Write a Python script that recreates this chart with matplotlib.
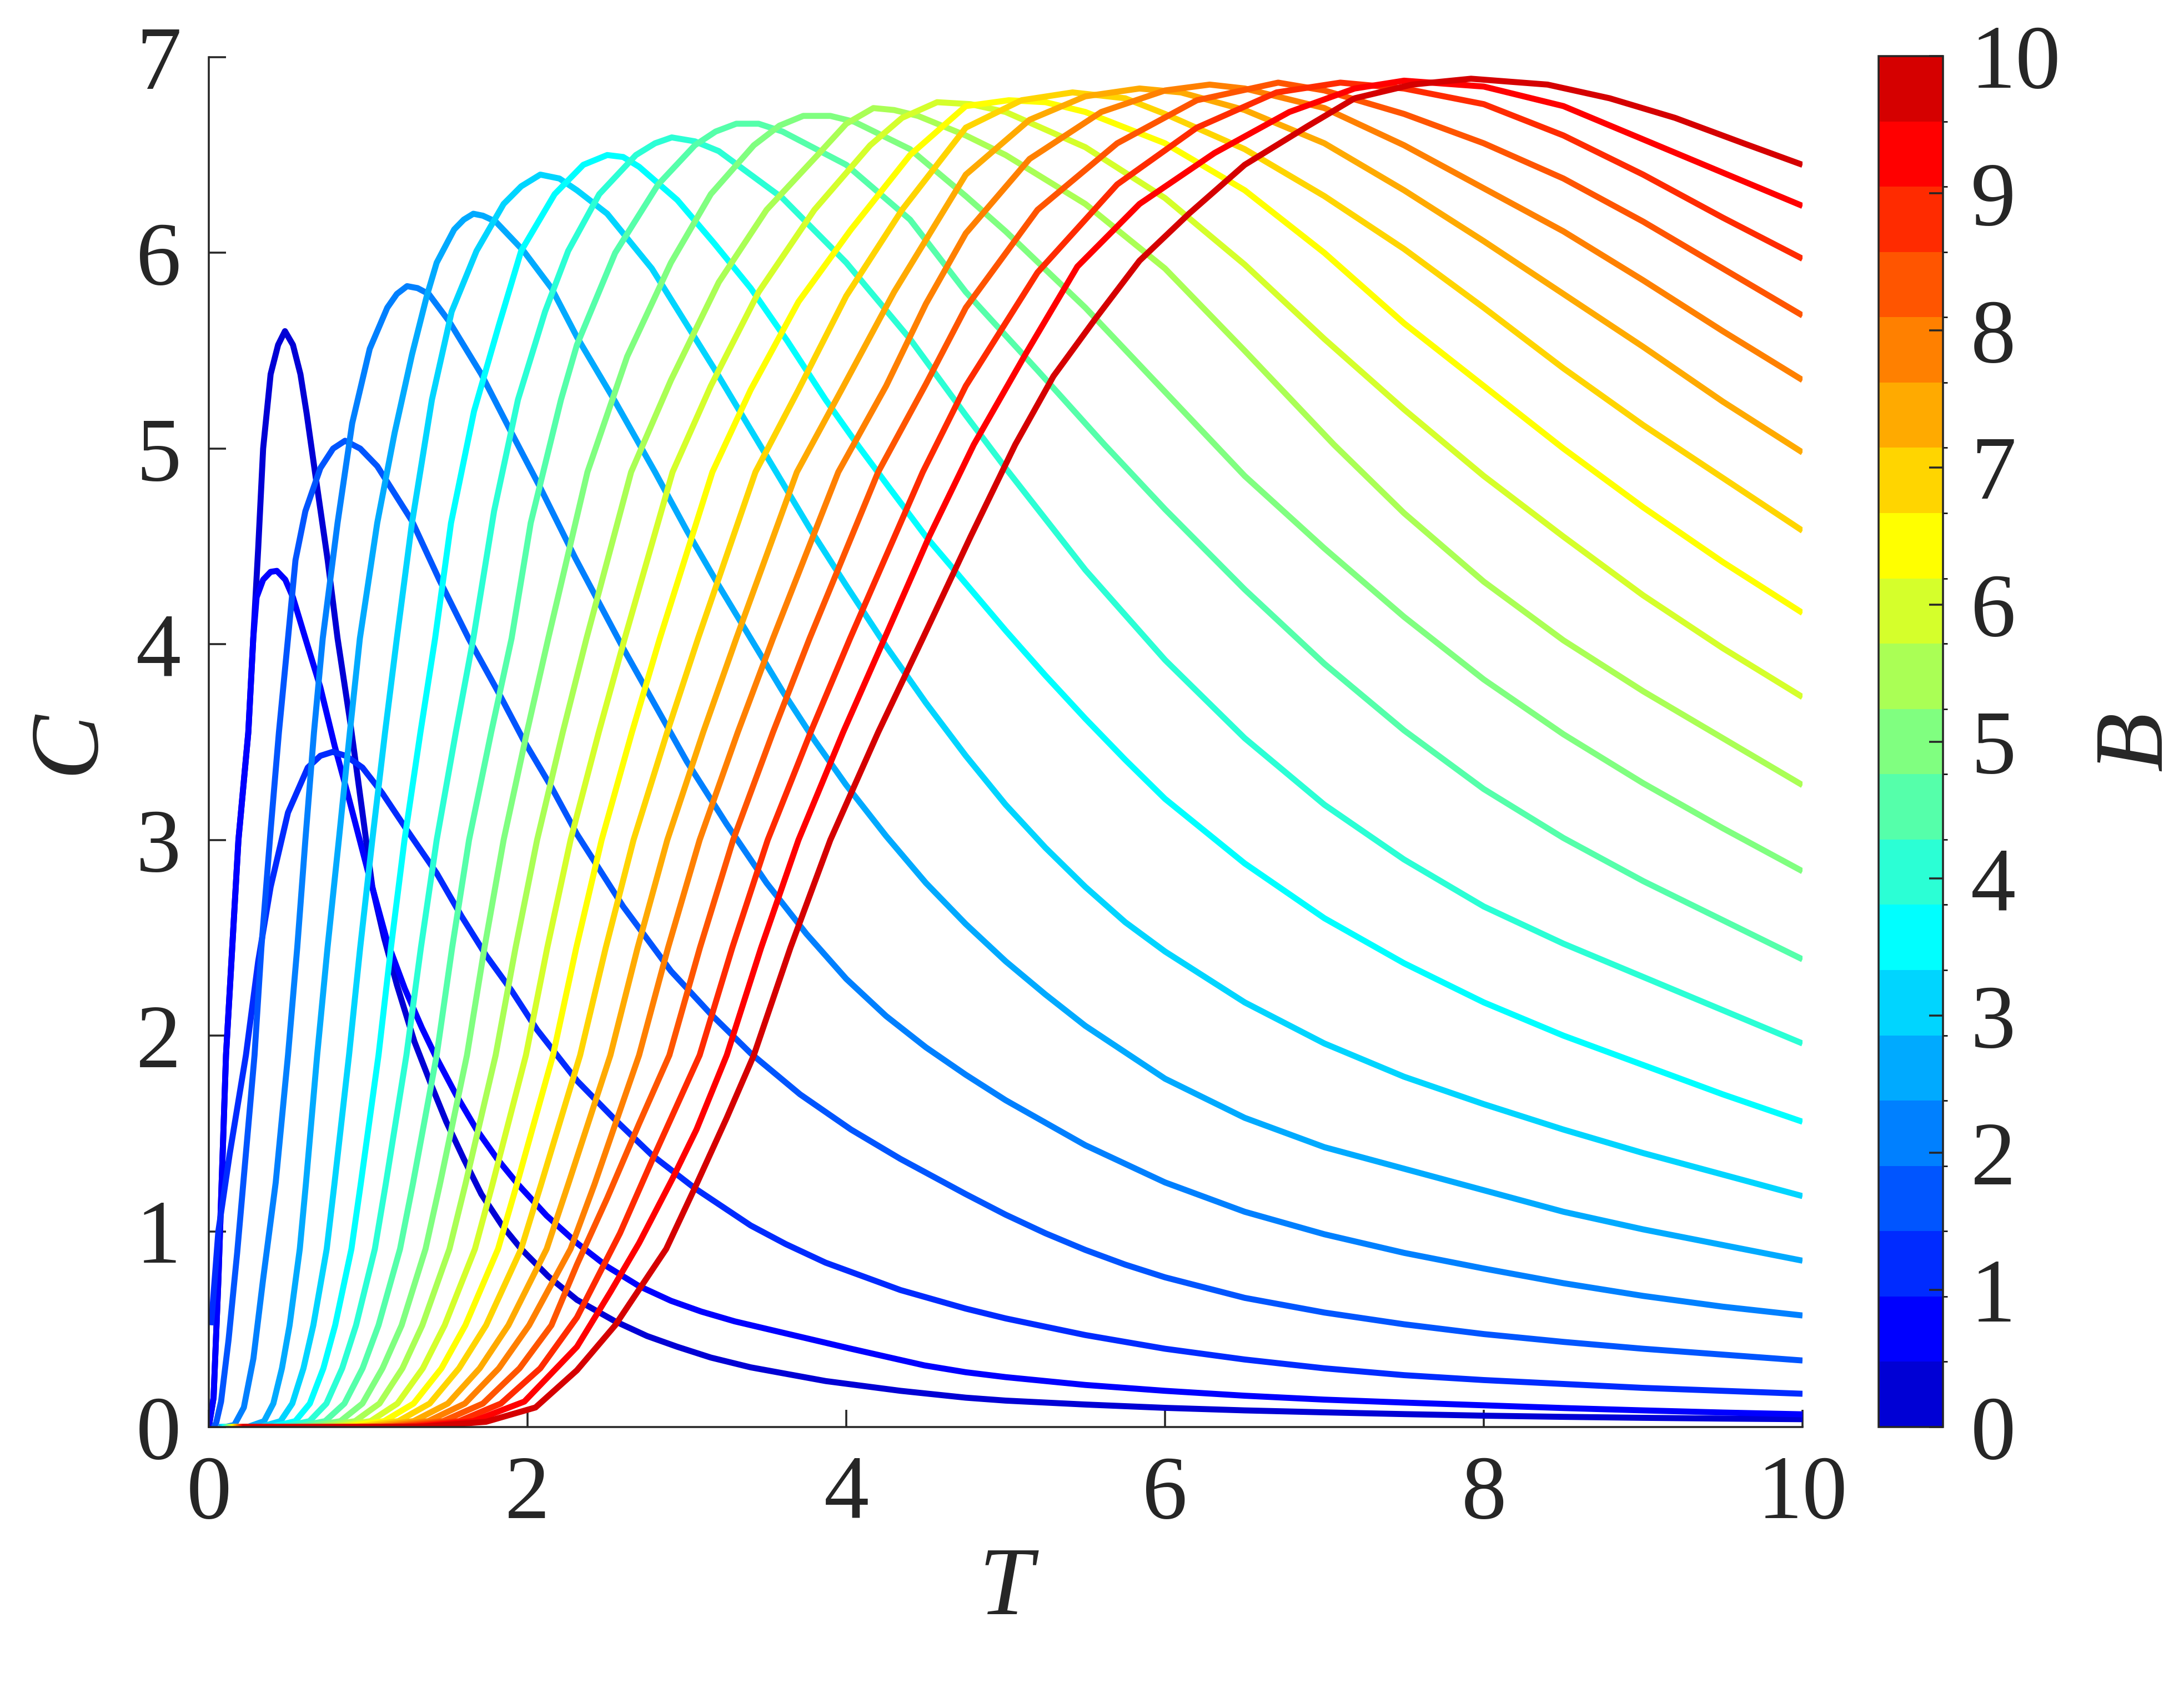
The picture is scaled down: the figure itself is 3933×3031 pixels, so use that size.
import numpy as np
import matplotlib
matplotlib.use("Agg")
import matplotlib.pyplot as plt
import matplotlib as mpl

plt.rcParams['font.family'] = ['Liberation Serif', 'DejaVu Serif']

# field values (colour bar) and the curves C(T)
B_VALUES = [0.0, 0.5, 1.0, 1.5, 2.0, 2.5, 3.0, 3.5, 4.0, 4.5, 5.0,
            5.5, 6.0, 6.5, 7.0, 7.5, 8.0, 8.5, 9.0, 9.5, 10.0]

t_b0 = [0.0, 0.03, 0.06, 0.108, 0.186, 0.248, 0.279, 0.31, 0.341, 0.388, 0.435, 0.478, 0.528, 0.575, 0.614,
        0.668, 0.746, 0.808, 0.886, 0.964, 1.026, 1.10, 1.18, 1.29, 1.40, 1.49, 1.60, 1.71, 1.84, 1.96,
        2.13, 2.31, 2.55, 2.75, 2.94, 3.15, 3.40, 3.87, 4.34, 4.75, 5.0, 5.5, 6.0, 6.5, 7.0,
        7.5, 8.0, 8.5, 9.0, 9.5, 10.0]
c_b0 = [0.0, 0.15, 0.75, 1.90, 3.0, 3.55, 4.03, 4.49, 5.0, 5.38, 5.53, 5.60, 5.53, 5.38, 5.18,
        4.87, 4.43, 4.03, 3.61, 3.14, 2.76, 2.50, 2.26, 1.97, 1.74, 1.56, 1.37, 1.19, 1.03, 0.91,
        0.77, 0.65, 0.54, 0.465, 0.41, 0.355, 0.305, 0.235, 0.185, 0.15, 0.135, 0.115, 0.098, 0.085, 0.075,
        0.066, 0.058, 0.052, 0.047, 0.043, 0.04]

t_b05 = [0.0, 0.03, 0.06, 0.108, 0.186, 0.248, 0.279, 0.30, 0.341, 0.388, 0.427, 0.48, 0.528, 0.606, 0.70,
         0.79, 0.87, 0.995, 1.12, 1.23, 1.337, 1.42, 1.55, 1.68, 1.81, 1.94, 2.12, 2.31, 2.50, 2.70,
         2.90, 3.09, 3.30, 3.56, 4.03, 4.49, 4.75, 5.0, 5.5, 6.0, 6.5, 7.0, 7.5, 8.0, 8.5,
         9.0, 9.5, 10.0]
c_b05 = [0.0, 0.15, 0.75, 1.90, 3.0, 3.55, 4.03, 4.24, 4.33, 4.37, 4.375, 4.33, 4.24, 4.03, 3.78,
         3.48, 3.24, 2.85, 2.48, 2.24, 2.04, 1.90, 1.70, 1.52, 1.37, 1.24, 1.08, 0.94, 0.82, 0.72,
         0.645, 0.59, 0.54, 0.49, 0.40, 0.315, 0.28, 0.255, 0.215, 0.185, 0.16, 0.14, 0.125, 0.111, 0.097,
         0.085, 0.074, 0.065]

t_b1 = [0.015, 0.06, 0.131, 0.233, 0.31, 0.388, 0.497, 0.621, 0.70, 0.777, 0.86, 0.964, 1.088, 1.244, 1.43,
        1.586, 1.74, 1.90, 2.06, 2.31, 2.55, 2.78, 3.05, 3.40, 3.62, 3.87, 4.34, 4.75, 5.0, 5.5,
        6.0, 6.5, 7.0, 7.5, 8.0, 8.5, 9.0, 9.5, 10.0]
c_b1 = [0.52, 1.0, 1.395, 1.90, 2.38, 2.76, 3.14, 3.37, 3.43, 3.45, 3.43, 3.37, 3.24, 3.05, 2.83,
        2.61, 2.41, 2.23, 2.03, 1.77, 1.57, 1.39, 1.22, 1.03, 0.935, 0.84, 0.70, 0.605, 0.555, 0.47,
        0.40, 0.345, 0.30, 0.265, 0.24, 0.22, 0.20, 0.185, 0.17]

t_b15 = [0.03, 0.046, 0.077, 0.124, 0.178, 0.232, 0.287, 0.33, 0.388, 0.44, 0.497, 0.544, 0.606, 0.70, 0.78,
         0.855, 0.95, 1.057, 1.275, 1.446, 1.63, 1.82, 1.975, 2.15, 2.31, 2.60, 2.90, 3.15, 3.40, 3.71,
         4.03, 4.34, 4.75, 5.0, 5.25, 5.5, 5.75, 6.0, 6.5, 7.0, 7.5, 8.0, 8.5, 9.0, 9.5,
         10.0]
c_b15 = [0.0, 0.02, 0.13, 0.445, 0.89, 1.39, 1.90, 2.45, 3.05, 3.55, 4.03, 4.43, 4.68, 4.90, 5.00,
         5.04, 5.00, 4.91, 4.63, 4.33, 4.03, 3.75, 3.51, 3.27, 3.03, 2.66, 2.33, 2.11, 1.91, 1.70,
         1.52, 1.37, 1.19, 1.085, 0.99, 0.905, 0.83, 0.765, 0.66, 0.585, 0.525, 0.475, 0.435, 0.40, 0.37,
         0.34]

t_b2 = [0.10, 0.16, 0.22, 0.28, 0.34, 0.42, 0.497, 0.555, 0.606, 0.66, 0.715, 0.808, 0.90, 1.01, 1.12,
        1.18, 1.244, 1.31, 1.38, 1.508, 1.71, 1.90, 2.08, 2.30, 2.60, 3.0, 3.25, 3.5, 3.75, 4.0,
        4.25, 4.5, 4.75, 5.0, 5.5, 6.0, 6.5, 7.0, 7.5, 8.0, 8.5, 9.0, 9.5, 10.0]
c_b2 = [0.0, 0.01, 0.10, 0.35, 0.75, 1.25, 1.90, 2.45, 3.0, 3.55, 4.03, 4.62, 5.13, 5.51, 5.72,
        5.79, 5.83, 5.82, 5.79, 5.65, 5.38, 5.08, 4.80, 4.44, 3.98, 3.40, 3.08, 2.78, 2.52, 2.29,
        2.10, 1.94, 1.80, 1.67, 1.44, 1.25, 1.10, 0.985, 0.89, 0.81, 0.735, 0.67, 0.615, 0.57]

t_b25 = [0.06, 0.25, 0.347, 0.405, 0.459, 0.507, 0.571, 0.609, 0.68, 0.745, 0.816, 0.885, 0.948, 1.057, 1.166,
         1.275, 1.368, 1.43, 1.54, 1.60, 1.66, 1.72, 1.80, 1.975, 2.15, 2.31, 2.55, 2.80, 3.0, 3.2,
         3.4, 3.6, 3.8, 4.0, 4.25, 4.5, 4.75, 5.0, 5.25, 5.5, 6.0, 6.5, 7.0, 7.5, 8.0,
         8.5, 9.0, 9.5, 10.0]
c_b25 = [0.0, 0.002, 0.03, 0.12, 0.3, 0.52, 0.91, 1.24, 1.90, 2.45, 3.0, 3.55, 4.03, 4.62, 5.08,
         5.48, 5.78, 5.95, 6.12, 6.17, 6.20, 6.19, 6.16, 6.01, 5.82, 5.57, 5.24, 4.88, 4.58, 4.30,
         4.03, 3.76, 3.51, 3.28, 3.02, 2.78, 2.57, 2.38, 2.21, 2.05, 1.78, 1.58, 1.43, 1.32, 1.21,
         1.10, 1.01, 0.93, 0.85]

t_b3 = [0.07, 0.33, 0.45, 0.524, 0.594, 0.656, 0.74, 0.788, 0.88, 0.95, 1.026, 1.106, 1.18, 1.275, 1.40,
        1.524, 1.68, 1.85, 1.96, 2.08, 2.20, 2.31, 2.50, 2.78, 3.17, 3.56, 3.78, 4.0, 4.25, 4.5,
        4.75, 5.0, 5.25, 5.5, 5.75, 6.0, 6.5, 7.0, 7.5, 8.0, 8.5, 9.0, 9.5, 10.0]
c_b3 = [0.0, 0.002, 0.03, 0.12, 0.3, 0.52, 0.91, 1.24, 1.90, 2.45, 3.0, 3.55, 4.03, 4.62, 5.25,
        5.70, 6.01, 6.25, 6.34, 6.40, 6.38, 6.32, 6.20, 5.92, 5.41, 4.88, 4.58, 4.30, 3.99, 3.70,
        3.43, 3.18, 2.96, 2.76, 2.58, 2.43, 2.17, 1.96, 1.79, 1.65, 1.52, 1.40, 1.29, 1.18]

t_b35 = [0.08, 0.40, 0.543, 0.634, 0.719, 0.793, 0.895, 0.953, 1.065, 1.143, 1.228, 1.328, 1.42, 1.52, 1.664,
         1.82, 1.96, 2.17, 2.35, 2.50, 2.60, 2.70, 2.94, 3.17, 3.40, 3.63, 3.87, 4.07, 4.27, 4.5,
         4.75, 5.0, 5.25, 5.5, 5.75, 6.0, 6.5, 7.0, 7.5, 8.0, 8.5, 9.0, 9.5, 10.0]
c_b35 = [0.0, 0.002, 0.03, 0.12, 0.3, 0.52, 0.91, 1.24, 1.90, 2.45, 3.0, 3.55, 4.03, 4.62, 5.19,
         5.63, 6.01, 6.30, 6.45, 6.50, 6.49, 6.44, 6.27, 6.05, 5.82, 5.55, 5.25, 5.02, 4.80, 4.55,
         4.31, 4.07, 3.84, 3.62, 3.41, 3.21, 2.88, 2.60, 2.37, 2.17, 2.0, 1.85, 1.70, 1.56]

t_b4 = [0.09, 0.47, 0.632, 0.738, 0.837, 0.924, 1.042, 1.11, 1.24, 1.331, 1.43, 1.55, 1.66, 1.79, 1.94,
        2.11, 2.255, 2.45, 2.68, 2.80, 2.905, 3.05, 3.2, 3.6, 4.0, 4.4, 4.75, 5.0, 5.5, 6.0,
        6.5, 7.0, 7.5, 8.0, 8.5, 9.0, 9.5, 10.0]
c_b4 = [0.0, 0.002, 0.03, 0.12, 0.3, 0.52, 0.91, 1.24, 1.90, 2.45, 3.0, 3.55, 4.03, 4.68, 5.25,
        5.70, 6.01, 6.30, 6.50, 6.56, 6.59, 6.57, 6.52, 6.28, 5.95, 5.56, 5.17, 4.90, 4.38, 3.92,
        3.52, 3.18, 2.90, 2.66, 2.47, 2.30, 2.13, 1.96]

t_b45 = [0.10, 0.55, 0.73, 0.851, 0.965, 1.065, 1.20, 1.28, 1.43, 1.527, 1.633, 1.772, 1.90, 2.02, 2.21,
         2.31, 2.55, 2.82, 3.05, 3.18, 3.31, 3.45, 3.6, 4.0, 4.4, 4.75, 5.2, 5.62, 6.0, 6.5,
         7.0, 7.5, 8.0, 8.5, 9.0, 9.5, 10.0]
c_b45 = [0.0, 0.002, 0.03, 0.12, 0.3, 0.52, 0.91, 1.24, 1.90, 2.45, 3.0, 3.55, 4.03, 4.62, 5.25,
         5.53, 6.0, 6.35, 6.55, 6.62, 6.66, 6.66, 6.62, 6.45, 6.17, 5.80, 5.40, 5.02, 4.69, 4.28,
         3.90, 3.56, 3.26, 3.01, 2.79, 2.59, 2.39]

t_b5 = [0.11, 0.62, 0.826, 0.964, 1.09, 1.21, 1.36, 1.45, 1.62, 1.73, 1.85, 1.996, 2.13, 2.376, 2.625,
        2.90, 3.15, 3.42, 3.58, 3.73, 3.90, 4.05, 4.4, 4.75, 5.0, 5.5, 6.0, 6.5, 7.0, 7.5,
        8.0, 8.5, 9.0, 9.5, 10.0]
c_b5 = [0.0, 0.002, 0.03, 0.12, 0.3, 0.52, 0.91, 1.24, 1.90, 2.45, 3.0, 3.55, 4.03, 4.88, 5.47,
        5.95, 6.30, 6.55, 6.65, 6.70, 6.70, 6.67, 6.53, 6.29, 6.11, 5.72, 5.29, 4.86, 4.49, 4.14,
        3.82, 3.54, 3.29, 3.06, 2.84]

t_b55 = [0.12, 0.70, 0.918, 1.071, 1.215, 1.34, 1.51, 1.61, 1.80, 1.925, 2.06, 2.221, 2.37, 2.65, 2.90,
         3.20, 3.50, 3.82, 4.0, 4.17, 4.30, 4.45, 4.75, 5.0, 5.5, 6.0, 6.5, 7.06, 7.5, 8.0,
         8.5, 9.0, 9.5, 10.0]
c_b55 = [0.0, 0.002, 0.03, 0.12, 0.3, 0.52, 0.91, 1.24, 1.90, 2.45, 3.0, 3.55, 4.03, 4.88, 5.35,
         5.85, 6.22, 6.50, 6.66, 6.74, 6.73, 6.70, 6.60, 6.50, 6.25, 5.92, 5.50, 5.02, 4.67, 4.32,
         4.02, 3.76, 3.52, 3.28]

t_b6 = [0.13, 0.78, 1.015, 1.184, 1.343, 1.48, 1.67, 1.78, 1.99, 2.124, 2.27, 2.447, 2.61, 2.91, 3.15,
        3.45, 3.80, 4.15, 4.35, 4.57, 4.78, 5.0, 5.5, 6.0, 6.5, 7.0, 7.5, 8.0, 8.5, 9.0,
        9.5, 10.0]
c_b6 = [0.0, 0.002, 0.03, 0.12, 0.3, 0.52, 0.91, 1.24, 1.90, 2.45, 3.0, 3.55, 4.03, 4.88, 5.32,
        5.80, 6.22, 6.55, 6.69, 6.77, 6.76, 6.72, 6.54, 6.28, 5.94, 5.56, 5.20, 4.86, 4.55, 4.25,
        3.98, 3.73]

t_b65 = [0.14, 0.85, 1.10, 1.285, 1.46, 1.61, 1.815, 1.933, 2.16, 2.306, 2.465, 2.655, 2.83, 3.16, 3.40,
         3.70, 4.03, 4.40, 4.75, 5.02, 5.25, 5.5, 6.0, 6.5, 7.0, 7.5, 8.0, 8.5, 9.0, 9.5,
         10.0]
c_b65 = [0.0, 0.002, 0.03, 0.12, 0.3, 0.52, 0.91, 1.24, 1.90, 2.45, 3.0, 3.55, 4.03, 4.88, 5.30,
         5.75, 6.12, 6.50, 6.75, 6.78, 6.77, 6.72, 6.56, 6.32, 6.00, 5.64, 5.32, 5.00, 4.70, 4.42,
         4.16]

t_b7 = [0.15, 0.93, 1.19, 1.386, 1.57, 1.74, 1.96, 2.085, 2.33, 2.491, 2.665, 2.876, 3.07, 3.43, 3.70,
        4.00, 4.35, 4.75, 5.10, 5.42, 5.75, 6.0, 6.5, 7.0, 7.5, 8.0, 8.5, 9.0, 9.5, 10.0]
c_b7 = [0.0, 0.002, 0.03, 0.12, 0.3, 0.52, 0.91, 1.24, 1.90, 2.45, 3.0, 3.55, 4.03, 4.88, 5.30,
        5.78, 6.22, 6.64, 6.78, 6.82, 6.79, 6.71, 6.53, 6.29, 6.02, 5.72, 5.41, 5.12, 4.85, 4.58]

t_b75 = [0.16, 1.0, 1.285, 1.50, 1.70, 1.88, 2.12, 2.255, 2.52, 2.691, 2.877, 3.102, 3.31, 3.69, 3.97,
         4.30, 4.75, 5.15, 5.50, 5.84, 6.1, 6.5, 7.0, 7.5, 8.0, 8.5, 9.0, 9.5, 10.0]
c_b75 = [0.0, 0.002, 0.03, 0.12, 0.3, 0.52, 0.91, 1.24, 1.90, 2.45, 3.0, 3.55, 4.03, 4.88, 5.30,
         5.80, 6.40, 6.68, 6.80, 6.84, 6.82, 6.73, 6.56, 6.32, 6.06, 5.79, 5.52, 5.24, 4.98]

t_b8 = [0.17, 1.08, 1.377, 1.607, 1.82, 2.01, 2.27, 2.42, 2.70, 2.882, 3.08, 3.319, 3.54, 3.95, 4.25,
        4.5, 4.75, 5.15, 5.60, 6.0, 6.28, 6.5, 7.0, 7.5, 8.0, 8.5, 9.0, 9.5, 10.0]
c_b8 = [0.0, 0.002, 0.03, 0.12, 0.3, 0.52, 0.91, 1.24, 1.90, 2.45, 3.0, 3.55, 4.03, 4.88, 5.32,
        5.74, 6.10, 6.48, 6.72, 6.83, 6.86, 6.84, 6.74, 6.55, 6.33, 6.11, 5.86, 5.60, 5.35]

t_b85 = [0.18, 1.15, 1.47, 1.72, 1.95, 2.15, 2.31, 2.50, 2.70, 2.89, 3.082, 3.29, 3.54, 3.77, 4.20,
         4.5, 4.75, 5.20, 5.70, 6.20, 6.71, 7.0, 7.5, 8.0, 8.5, 9.0, 9.5, 10.0]
c_b85 = [0.0, 0.002, 0.03, 0.12, 0.3, 0.52, 0.83, 1.17, 1.55, 1.90, 2.45, 3.0, 3.55, 4.03, 4.88,
         5.33, 5.72, 6.22, 6.56, 6.78, 6.87, 6.83, 6.71, 6.56, 6.38, 6.16, 5.92, 5.68]

t_b9 = [0.19, 1.22, 1.57, 1.833, 2.08, 2.31, 2.58, 2.78, 3.08, 3.285, 3.507, 3.776, 4.024, 4.48, 4.75,
        5.20, 5.70, 6.20, 6.70, 7.10, 7.5, 8.0, 8.5, 9.0, 9.5, 10.0]
c_b9 = [0.0, 0.002, 0.03, 0.12, 0.3, 0.56, 0.99, 1.36, 1.90, 2.45, 3.0, 3.55, 4.03, 4.88, 5.32,
        5.90, 6.35, 6.64, 6.82, 6.87, 6.84, 6.76, 6.60, 6.40, 6.18, 5.97]

t_b95 = [0.20, 1.30, 1.66, 1.98, 2.31, 2.52, 2.70, 2.91, 3.06, 3.25, 3.466, 3.70, 3.98, 4.24, 4.52,
         4.80, 5.13, 5.45, 5.84, 6.31, 6.78, 7.19, 7.50, 8.0, 8.5, 9.0, 9.5, 10.0]
c_b95 = [0.0, 0.002, 0.03, 0.13, 0.41, 0.69, 0.94, 1.27, 1.52, 1.90, 2.45, 3.0, 3.55, 4.03, 4.55,
         5.02, 5.49, 5.93, 6.25, 6.51, 6.72, 6.84, 6.88, 6.85, 6.75, 6.58, 6.41, 6.24]

t_b10 = [0.21, 1.35, 1.74, 2.05, 2.31, 2.55, 2.87, 3.06, 3.25, 3.42, 3.65, 3.90, 4.20, 4.48, 4.78,
         5.06, 5.30, 5.56, 5.84, 6.15, 6.50, 6.90, 7.19, 7.55, 7.92, 8.4, 8.79, 9.2, 9.63, 10.0]
c_b10 = [0.0, 0.002, 0.027, 0.10, 0.29, 0.52, 0.91, 1.24, 1.58, 1.90, 2.45, 3.0, 3.55, 4.03, 4.55,
         5.02, 5.37, 5.66, 5.96, 6.20, 6.45, 6.65, 6.79, 6.86, 6.89, 6.86, 6.79, 6.69, 6.56, 6.45]

CURVES = [(t_b0, c_b0), (t_b05, c_b05), (t_b1, c_b1), (t_b15, c_b15), (t_b2, c_b2),
          (t_b25, c_b25), (t_b3, c_b3), (t_b35, c_b35), (t_b4, c_b4), (t_b45, c_b45),
          (t_b5, c_b5), (t_b55, c_b55), (t_b6, c_b6), (t_b65, c_b65), (t_b7, c_b7),
          (t_b75, c_b75), (t_b8, c_b8), (t_b85, c_b85), (t_b9, c_b9), (t_b95, c_b95),
          (t_b10, c_b10)]


def matlab_jet(m):
    # same construction as MATLAB's jet(m)
    n = int(np.ceil(m / 4))
    u = np.concatenate([np.arange(1, n + 1) / n, np.ones(n - 1), np.arange(n, 0, -1) / n])
    g = int(np.ceil(n / 2)) - (1 if m % 4 == 1 else 0) + np.arange(1, len(u) + 1)
    r = g + n
    b = g - n
    rgb = np.zeros((m, 3))
    for col, idx in ((0, r), (1, g), (2, b)):
        ok = (idx >= 1) & (idx <= m)
        rgb[idx[ok] - 1, col] = u[ok]
    return rgb


colors = matlab_jet(len(B_VALUES))
axis_col = '#262626'

fig = plt.figure(figsize=(3933 / 300, 3031 / 300), dpi=300)
ax = fig.add_axes([376 / 3933, 461 / 3031, 2870 / 3933, 2467 / 3031])
cax = fig.add_axes([3383 / 3933, 461 / 3031, 116 / 3933, 2469 / 3031])

for (t, c), col in zip(CURVES, colors):
    assert len(t) == len(c)
    ax.plot(t, c, color=col, lw=2.6, solid_joinstyle='round', solid_capstyle='butt')

ax.set_xlim(0, 10)
ax.set_ylim(0, 7)
ax.set_xticks([0, 2, 4, 6, 8, 10])
ax.set_yticks(range(8))
for side in ('top', 'right'):
    ax.spines[side].set_visible(False)
for side in ('left', 'bottom'):
    ax.spines[side].set_linewidth(0.85)
    ax.spines[side].set_color(axis_col)
ax.tick_params(direction='in', length=7.5, width=0.85, color=axis_col,
               labelcolor=axis_col, labelsize=39, pad=12)
ax.set_xlabel('T', fontsize=42, fontstyle='italic', color=axis_col, labelpad=4)
ax.set_ylabel('C', fontsize=42, fontstyle='italic', color=axis_col, labelpad=10)

cmap = mpl.colors.ListedColormap(colors)
norm = mpl.colors.BoundaryNorm(np.linspace(0, 10, len(B_VALUES) + 1), cmap.N)
cbar = fig.colorbar(mpl.cm.ScalarMappable(norm=norm, cmap=cmap), cax=cax, ticks=range(11))
cbar.outline.set_linewidth(0.85)
cbar.outline.set_edgecolor(axis_col)
cax.tick_params(direction='in', length=6, width=0.85, color=axis_col,
                labelcolor=axis_col, labelsize=39, pad=12)
cbar.set_label('B', fontsize=42, fontstyle='italic', color=axis_col, labelpad=14)

fig.savefig('out.png', dpi=300)
